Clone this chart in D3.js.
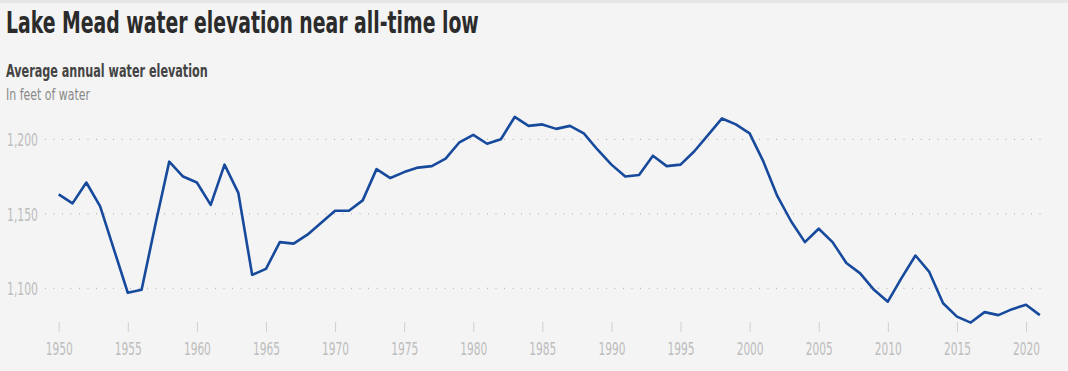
<!DOCTYPE html>
<html>
<head>
<meta charset="utf-8">
<script src="https://cdn.jsdelivr.net/npm/d3@7"></script>
<style>
  html, body { margin: 0; padding: 0; background: #f4f4f4; }
  svg { display: block; }
  text { font-family: "DejaVu Sans Condensed", "Roboto", sans-serif; }
</style>
</head>
<body>
<div id="chart"></div>
<script>
// annual average elevation of Lake Mead, feet
const years = d3.range(1950, 2022);
const elevation = [
  1163, 1157, 1171, 1155, 1126, 1097, 1099, 1143, 1185, 1175,
  1171, 1156, 1183, 1164, 1109, 1113, 1131, 1130, 1136, 1144,
  1152, 1152, 1159, 1180, 1174, 1178, 1181, 1182, 1187, 1198,
  1203, 1197, 1200, 1215, 1209, 1210, 1207, 1209, 1204, 1193,
  1183, 1175, 1176, 1189, 1182, 1183, 1192, 1203, 1214, 1210,
  1204, 1185, 1162, 1145, 1131, 1140, 1131, 1117, 1110, 1099,
  1091, 1107, 1122, 1111, 1090, 1081, 1077, 1084, 1082, 1086,
  1089, 1082
];
const yTicks = [1100, 1150, 1200];
const xTicks = d3.range(1950, 2021, 5);

const width = 1068, height = 371;

const svg = d3.select("#chart").append("svg")
  .attr("width", width)
  .attr("height", height);

svg.append("rect").attr("width", width).attr("height", height).attr("fill", "#f4f4f4");
svg.append("rect").attr("width", width).attr("height", 3).attr("fill", "#e6e6e6");

// squeeze a text horizontally so it looks like the compressed face of the original
function squeeze(sel, k) {
  sel.each(function() {
    const t = d3.select(this);
    const tx = +t.attr("x") || 0, ty = +t.attr("y") || 0;
    t.attr("x", 0).attr("y", 0)
      .attr("transform", `translate(${tx},${ty}) scale(${k},1)`);
  });
}
function fit(sel, target) {
  const w = sel.node().getComputedTextLength();
  squeeze(sel, target / w);
}

// titles
const title = svg.append("text")
  .attr("x", 6).attr("y", 33)
  .style("font-size", "30px").style("font-weight", 700)
  .attr("fill", "#2b2b2b")
  .text("Lake Mead water elevation near all-time low");
fit(title, 473);

const sub = svg.append("text")
  .attr("x", 6).attr("y", 77)
  .style("font-size", "18px").style("font-weight", 700)
  .attr("fill", "#444")
  .text("Average annual water elevation");
fit(sub, 202);

const note = svg.append("text")
  .attr("x", 6).attr("y", 100)
  .style("font-size", "15px")
  .attr("fill", "#8a8a8a")
  .text("In feet of water");
fit(note, 84);

const x = d3.scaleLinear().domain([1950, 2020]).range([58.7, 1026]);
const y = d3.scaleLinear().domain([1070, 1220]).range([333, 109.5]);

// grid
const grid = svg.append("g");
grid.selectAll("line")
  .data(yTicks)
  .enter()
  .append("line")
  .attr("x1", 45).attr("x2", 1045)
  .attr("y1", d => y(d)).attr("y2", d => y(d))
  .attr("stroke", "#aaa")
  .attr("stroke-width", 1)
  .attr("stroke-dasharray", "1,7.5");

const yLabels = grid.selectAll("text")
  .data(yTicks)
  .enter()
  .append("text")
  .attr("x", 38)
  .attr("y", d => y(d) + 7)
  .attr("text-anchor", "end")
  .style("font-size", "18px")
  .attr("fill", "#bdbdbd")
  .text(d => d3.format(",")(d));
squeeze(yLabels, 31 / yLabels.node().getComputedTextLength());

// x axis
const xAxis = svg.append("g").attr("transform", "translate(0,322)")
  .call(d3.axisBottom(x).tickValues(xTicks).tickFormat(d3.format("d")).tickSize(10).tickPadding(0));
xAxis.select(".domain").remove();
xAxis.selectAll(".tick line").attr("stroke", "#cfcfcf");
const xLabels = xAxis.selectAll(".tick text")
  .attr("dy", null)
  .attr("y", 33)
  .style("font-size", "18px")
  .style("font-family", "\"DejaVu Sans Condensed\", Roboto, sans-serif")
  .attr("fill", "#bdbdbd");
squeeze(xLabels, 27 / xLabels.node().getComputedTextLength());

// line
const line = d3.line()
  .x((d, i) => x(years[i]))
  .y(d => y(d));

svg.append("path")
  .datum(elevation)
  .attr("d", line)
  .attr("fill", "none")
  .attr("stroke", "#174a9c")
  .attr("stroke-width", 2.6)
  .attr("stroke-linejoin", "round");
</script>
</body>
</html>
